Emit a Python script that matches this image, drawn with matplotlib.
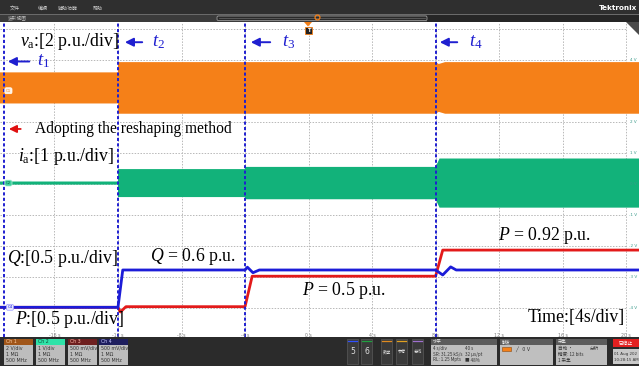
import numpy as np
import matplotlib
matplotlib.use("Agg")
import matplotlib.pyplot as plt
from matplotlib.patches import Rectangle, FancyBboxPatch, Polygon

plt.rcParams["font.family"] = ["DejaVu Sans"]
plt.rcParams["mathtext.fontset"] = "custom"
plt.rcParams["mathtext.rm"] = "Liberation Serif"
plt.rcParams["mathtext.it"] = "Liberation Serif:italic"

CJK = ["Noto Sans CJK SC", "DejaVu Sans"]
SERIF = "Liberation Serif"

# ---------------- data ----------------
# event instants (s)
t_events = [-19.2, -12.0, -4.0, 8.0]
event_labels = ["$t_1$", "$t_2$", "$t_3$", "$t_4$"]

# phase voltage va: envelope amplitude (p.u.)
va_time = [-19.43, -12.0, -12.0, 8.0, 8.2, 8.6, 20.81]
va_amp = [1.0, 1.0, 1.66, 1.66, 1.54, 1.66, 1.66]

# phase current ia: envelope amplitude (p.u.)
ia_time = [-19.43, -12.0, -12.0, -4.0, -4.0, 8.0, 8.25, 20.81]
ia_amp = [0.05, 0.05, 0.45, 0.45, 0.52, 0.52, 0.79, 0.79]

# active power P (p.u.)
p_time = [-19.43, -12.0, -11.85, -11.5, -4.0, -3.55, 8.0, 8.45, 20.81]
p_val = [0.0, 0.0, -0.075, 0.01, 0.01, 0.5, 0.5, 0.92, 0.92]

# reactive power Q (p.u.)
q_time = [-19.43, -12.0, -11.7, -4.0, -3.85, -3.5, -3.1, 8.0, 8.45, 8.95, 9.3, 20.81]
q_val = [0.0, 0.0, 0.6, 0.6, 0.645, 0.556, 0.6, 0.6, 0.52, 0.65, 0.6, 0.6]

# horizontal graticule labels (s)
time_ticks = [-16, -12, -8, -4, 0, 4, 8, 12, 16, 20]
# vertical scale readout of the selected channel (V)
volt_ticks = [4, 2, 1, 0, -1, -2, -3, -4]

# channel settings shown in the status bar
ch_names = ["Ch 1", "Ch 2", "Ch 3", "Ch 4"]
ch_scales = ["2 V/div", "1 V/div", "500 mV/div", "500 mV/div"]

# ---------------- display settings ----------------
T_LEFT, T_RIGHT = -19.43, 20.81
DIV_TOP, DIV_BOT = 5.21, -4.92
VA_CENTER, VA_PU_PER_DIV = 3.09, 2.0
IA_CENTER, IA_PU_PER_DIV = 0.03, 1.0
PQ_BASE, PQ_PU_PER_DIV = -3.965, 0.5

ORANGE = "#F58018"
GREEN = "#12B27A"
RED = "#E31A1A"
BLUE = "#1C1CD8"
MARK = "#1F1FD0"

W, H = 639, 366
TOP, BOT = 22, 337

fig = plt.figure(figsize=(W / 100, H / 100), dpi=100)
fig.patch.set_facecolor("white")

# ---------------- waveform area ----------------
ax = fig.add_axes([0, (H - BOT) / H, 1, (BOT - TOP) / H])
ax.set_xlim(T_LEFT, T_RIGHT)
ax.set_ylim(DIV_BOT, DIV_TOP)
ax.set_axis_off()

grid_kw = dict(color="#b8b8b8", lw=0.7, ls=(0, (1.5, 1.5)), zorder=1)
for t in time_ticks:
    ax.axvline(t, **grid_kw)
ax.hlines(range(-4, 6), T_LEFT, 20, **grid_kw)

va_t = np.array(va_time)
va_a = np.array(va_amp) / VA_PU_PER_DIV
ax.fill_between(va_t, VA_CENTER - va_a, VA_CENTER + va_a, color=ORANGE, lw=0, zorder=2)

ia_t = np.array(ia_time)
ia_a = np.array(ia_amp) / IA_PU_PER_DIV
ax.fill_between(ia_t, IA_CENTER - ia_a, IA_CENTER + ia_a, color=GREEN, lw=0, zorder=2)

ax.plot(p_time, PQ_BASE + np.array(p_val) / PQ_PU_PER_DIV, color=RED, lw=2.0, zorder=3)
ax.plot(q_time, PQ_BASE + np.array(q_val) / PQ_PU_PER_DIV, color=BLUE, lw=2.0, zorder=3)

for t in t_events:
    ax.axvline(t, color=MARK, lw=1.4, ls=(0, (1.6, 1.2)), zorder=4)

# time readout along the bottom
for t in time_ticks:
    ax.text(t, -4.86, f"{t} s", fontsize=3.3, color="#7a7a7a", ha="center", va="center", zorder=5)
# voltage readout along the right edge
for v in volt_ticks:
    ax.text(20.43, v, f"{v} V", fontsize=3.0, color="#3a9a8a", ha="center", va="center", zorder=5)
ax.plot([20.45], [VA_CENTER - 0.09], marker="<", ms=3.5, mfc="none", mec=ORANGE, mew=0.8, zorder=5)

# channel badges on the left edge
badge = dict(boxstyle="round,pad=0.25,rounding_size=0.4", lw=0.5)
ax.text(-18.9, VA_CENTER - 0.09, "C1", fontsize=2.8, color=ORANGE, ha="center", va="center",
        bbox=dict(fc="#fff1e0", ec="#ffffff", **badge), zorder=5)
ax.text(-18.9, IA_CENTER, "C2", fontsize=2.8, color="#0b6b4a", ha="center", va="center",
        bbox=dict(fc="#3ccf9c", ec="#b8f0dc", **badge), zorder=5)
ax.text(-18.8, PQ_BASE, "C4", fontsize=2.8, color=BLUE, ha="center", va="center",
        bbox=dict(fc="#e6e6ff", ec="#a0a0ff", **badge), zorder=5)

# ---------------- annotations ----------------
ann = dict(fontfamily=SERIF, fontsize=12.8, color="black", va="center", zorder=6)
ax.text(-18.17, 4.57, r"$v_\mathrm{a}$:[2 p.u./div]", ha="left", **ann)
ax.text(-18.29, 0.87, r"$i_\mathrm{a}$:[1 p.u./div]", ha="left", **ann)
ax.text(-18.99, -2.41, r"$Q$:[0.5 p.u./div]", ha="left", **ann)
ax.text(-18.48, -4.36, r"$P$:[0.5 p.u./div]", ha="left", **ann)
ax.text(-9.98, -2.32, r"$Q$ = 0.6 p.u.", ha="left", **ann)
ax.text(-0.41, -3.41, r"$P$ = 0.5 p.u.", ha="left", **ann)
ax.text(11.93, -1.64, r"$P$ = 0.92 p.u.", ha="left", **ann)
ax.text(13.82, -4.28, "Time:[4s/div]", ha="left", **ann)

ax.annotate("", xy=(-19.05, 1.77), xytext=(-17.95, 1.77),
            arrowprops=dict(arrowstyle="-|>,head_length=0.45,head_width=0.22", color="#e01010", lw=1.3),
            zorder=6)
ax.text(-17.22, 1.77, "Adopting the reshaping method", fontfamily=SERIF, fontsize=11.2,
        ha="left", va="center", zorder=6)

# event arrows: (tip, tail, label x, y)
arrow_spec = [(-19.11, -17.41, -17.1, 3.94), (-11.74, -10.3, -9.86, 4.56),
              (-3.81, -2.24, -1.67, 4.56), (8.09, 9.54, 10.1, 4.56)]
for (tip, tail, lx, y), lab in zip(arrow_spec, event_labels):
    ax.annotate("", xy=(tip, y), xytext=(tail, y),
                arrowprops=dict(arrowstyle="-|>,head_length=0.5,head_width=0.25", color=MARK, lw=1.4),
                zorder=6)
    ax.text(lx, y + 0.02, lab, fontsize=13.5, color=MARK, ha="left", va="center", zorder=6)

# ---------------- window chrome ----------------
ov = fig.add_axes([0, 0, 1, 1], zorder=10)
ov.set_xlim(0, W)
ov.set_ylim(H, 0)
ov.set_axis_off()
ov.patch.set_alpha(0)

# menu bar
ov.add_patch(Rectangle((0, 0), W, 14, fc="#2f2f2f", lw=0))
for x, s in [(10, "文件"), (38, "编辑"), (58, "辅助功能"), (93, "帮助")]:
    ov.text(x, 8.5, s, fontsize=3.6, color="#cfcfcf", family=CJK, va="center")
ov.text(637, 8, "Tektronix", fontsize=5.2, color="white", weight="bold", ha="right", va="center")
# view bar
ov.add_patch(Rectangle((0, 14), W, 8, fc="#3b3b3b", lw=0))
ov.add_patch(Rectangle((0, 14), W, 0.8, fc="#6a6a6a", lw=0))
ov.add_patch(Rectangle((427, 15), W - 427, 7, fc="#262626", lw=0))
ov.text(8, 18.3, "波形视图", fontsize=3.4, color="#bdbdbd", family=CJK, va="center")
ov.add_patch(FancyBboxPatch((217, 16), 210, 4.6, boxstyle="round,pad=0,rounding_size=1.5",
                            fc="#2a2a2a", ec="#9a9a9a", lw=0.6))
ov.plot([219, 425], [18.3, 18.3], color="#6a6a6a", lw=0.5)
ov.plot([317], [17], marker="o", ms=3.5, mfc="none", mec=ORANGE, mew=0.9)
# trigger marker
ov.add_patch(Polygon([(304, 22), (312, 22), (308, 26.5)], fc=ORANGE, lw=0))
ov.add_patch(Rectangle((305, 26.5), 7, 7, fc="#222222", ec=ORANGE, lw=0.6))
ov.text(308.5, 30, "T", fontsize=3.8, color="white", weight="bold", ha="center", va="center")
# corner tab
ov.add_patch(Polygon([(626, 22), (639, 22), (639, 35)], fc="#4a4a4a", lw=0))

# status bar
ov.add_patch(Rectangle((0, BOT), W, H - BOT, fc="#2b2b2b", lw=0))
ch_x = [4, 36, 68, 99]
head_fc = ["#a0561a", "#2fe3a8", "#6e2020", "#1e1e5e"]
head_tc = ["#ffd2a8", "#0f4a36", "#ffb8a8", "#c8c8ff"]
for x0, name, scale, fc, tc in zip(ch_x, ch_names, ch_scales, head_fc, head_tc):
    ov.add_patch(Rectangle((x0, 339), 29, 5.5, fc=fc, lw=0))
    ov.add_patch(Rectangle((x0, 344.5), 29, 20.5, fc="#bdbdbd", lw=0))
    ov.text(x0 + 2, 341.8, name, fontsize=3.4, color=tc, va="center")
    for yy, s in zip([348.5, 354.2, 360], [scale, "1 MΩ", "500 MHz"]):
        ov.text(x0 + 2, yy, s, fontsize=3.4, color="#333333", va="center")

for x0, s, lc in [(347, "5", "#3050ff"), (361, "6", "#20a040")]:
    ov.add_patch(Rectangle((x0, 339), 11, 25, fc="#3a3a3a", ec="#5a5a5a", lw=0.5))
    ov.plot([x0 + 1, x0 + 10], [340.5, 340.5], color=lc, lw=0.9)
    ov.text(x0 + 5.5, 352, s, fontsize=5.5, color="#e0e0e0", ha="center", va="center")
for x0, s, lc in [(381, "数学", "#e08a20"), (396, "参考", "#e0a020"), (412, "总线", "#a070d0")]:
    ov.add_patch(Rectangle((x0, 339), 11, 25, fc="#3a3a3a", ec="#5a5a5a", lw=0.5))
    ov.plot([x0 + 1, x0 + 10], [340.5, 340.5], color=lc, lw=0.9)
    ov.text(x0 + 5.5, 352, s, fontsize=3.0, color="#e0e0e0", ha="center", va="center", family=CJK)

panels = [(431, 66, "水平", [("4 s/div", "40 s"), ("SR: 31.25 kS/s", "32 µs/pt"), ("RL: 1.25 Mpts", "■ 48%")]),
          (500, 53, "触发", [("", ""), ("", ""), ("", "")]),
          (556, 51, "采集", [("自动 ·", "分析"), ("精度: 12 bits", ""), ("1 采集", "")])]
for x0, w, title, rows in panels:
    ov.add_patch(Rectangle((x0, 339), w, 5.5, fc="#5c5c5c", lw=0))
    ov.add_patch(Rectangle((x0, 344.5), w, 20, fc="#bfbfbf", lw=0))
    ov.text(x0 + 2, 341.8, title, fontsize=3.2, color="#eeeeee", va="center", family=CJK)
    for yy, (a, b) in zip([348.5, 354.2, 360], rows):
        ov.text(x0 + 2, yy, a, fontsize=3.3, color="#333333", va="center", family=CJK)
        ov.text(x0 + 34, yy, b, fontsize=3.3, color="#333333", va="center", family=CJK)
ov.add_patch(Rectangle((502, 346.5), 9, 4.5, fc=ORANGE, ec="#8a4a10", lw=0.4))
ov.text(515, 348.8, "╱   0 V", fontsize=3.4, color="#333333", va="center")

ov.add_patch(Rectangle((613, 339), 26, 8, fc="#e32020", lw=0))
ov.text(626, 343, "已停止", fontsize=3.4, color="white", ha="center", va="center", family=CJK)
ov.add_patch(Rectangle((613, 349), 26, 15, fc="#c9c9c9", lw=0))
ov.text(614, 353.5, "01 Aug 202", fontsize=2.9, color="#333333", va="center")
ov.text(614, 359.8, "10:28:15 AM", fontsize=2.8, color="#333333", va="center")

fig.savefig("out.png", dpi=100)
